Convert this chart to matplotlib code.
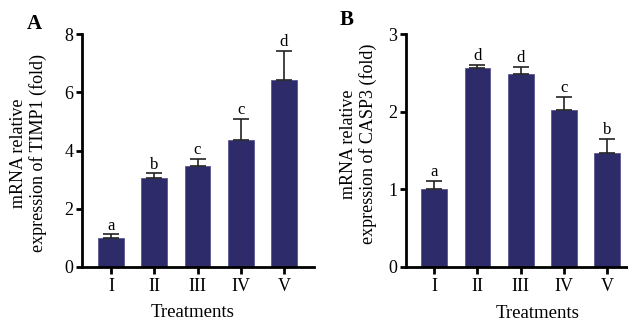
import matplotlib
matplotlib.use("Agg")
import matplotlib.pyplot as plt

plt.rcParams['font.family'] = ['Liberation Serif', 'DejaVu Serif']

treatments = ["I", "II", "III", "IV", "V"]

timp1_mean = [1.0, 3.04, 3.47, 4.37, 6.43]
timp1_err = [0.11, 0.17, 0.25, 0.72, 1.01]
timp1_letters = ["a", "b", "c", "c", "d"]

casp3_mean = [1.0, 2.56, 2.49, 2.02, 1.47]
casp3_err = [0.11, 0.05, 0.09, 0.17, 0.18]
casp3_letters = ["a", "d", "d", "c", "b"]

bar_color = "#2e2b6b"

fig = plt.figure(figsize=(6.28, 3.27), dpi=100)
axA = fig.add_axes([0.130, 0.1844, 0.370, 0.7107])
axB = fig.add_axes([0.646, 0.1844, 0.354, 0.7107])


def draw_panel(ax, means, errs, letters, ymax, yticks, ylabel, xlim, letter_pad,
               ylab_pos, xlab_pos):
    x = range(len(treatments))
    ax.bar(x, means, width=0.6, color=bar_color, edgecolor="#4a4888", linewidth=0.5, zorder=2)
    ax.errorbar(x, means, yerr=[[0] * len(errs), errs], fmt="none", ecolor="#222222",
                elinewidth=1.2, capsize=5.5, capthick=1.2, zorder=3)
    for xi, m, e, t in zip(x, means, errs, letters):
        ax.text(xi, m + e + letter_pad, t, ha="center", va="bottom", fontsize=12)
    ax.set_xlim(*xlim)
    ax.set_ylim(0, ymax)
    ax.set_yticks(yticks)
    ax.set_xticks(list(x))
    ax.set_xticklabels(treatments, fontsize=13)
    ax.tick_params(axis="y", labelsize=13, width=2, length=4, pad=2)
    ax.tick_params(axis="x", width=2, length=5, pad=3)
    for s in ["top", "right"]:
        ax.spines[s].set_visible(False)
    for s in ["left", "bottom"]:
        ax.spines[s].set_linewidth(2)
    ax.text(xlab_pos[0], xlab_pos[1], "Treatments", fontsize=13.5, ha="center", va="center",
            transform=ax.transAxes)
    ax.text(ylab_pos[0], ylab_pos[1], ylabel, fontsize=13, ha="center", va="center",
            rotation=90, linespacing=1.2, multialignment="center", transform=ax.transAxes)


draw_panel(axA, timp1_mean, timp1_err, timp1_letters, 8, [0, 2, 4, 6, 8],
           "mRNA relative\nexpression of TIMP1 (fold)", (-0.687, 4.70), 0.02,
           (-0.229, 0.489), (0.477, -0.195))
draw_panel(axB, casp3_mean, casp3_err, casp3_letters, 3, [0, 1, 2, 3],
           "mRNA relative\nexpression of CASP3 (fold)", (-0.665, 4.49), 0.008,
           (-0.212, 0.528), (0.593, -0.203))

fig.text(0.043, 0.927, "A", fontsize=15, fontweight="bold", va="center")
fig.text(0.541, 0.939, "B", fontsize=15, fontweight="bold", va="center")

fig.savefig("out.png", dpi=100)
